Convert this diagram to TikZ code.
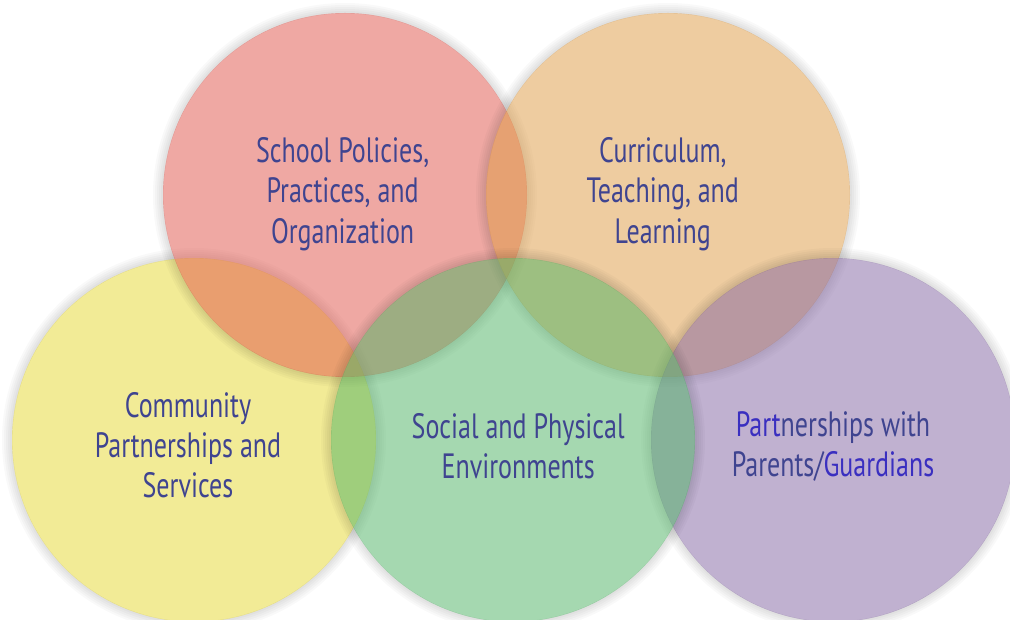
\documentclass[tikz,border=0pt]{standalone}
\usepackage{fontspec}
\setmainfont{PT Sans}[FakeStretch=0.74]
\usetikzlibrary{positioning}
\definecolor{RingRed}{HTML}{E15349}
\definecolor{RingOrange}{HTML}{DF9B43}
\definecolor{RingYellow}{HTML}{E7D92F}
\definecolor{RingGreen}{HTML}{4DB363}
\definecolor{RingPurple}{HTML}{8365A3}
\definecolor{RingInk}{HTML}{3F4490}
\definecolor{RingBlue}{HTML}{3A2FC0}
\tikzset{
  ring/.style={circle, minimum size=9.1cm, inner sep=0pt, fill opacity=0.5},
  ringlabel/.style={font=\fontsize{25}{28.5}\selectfont, text=RingInk, align=center},
}
% soft halo just outside a ring
\newcommand{\ringshadow}[1]{%
  \foreach \k in {1,...,5}
    \fill[black, opacity=0.022, even odd rule] (#1) circle (4.55cm+\k*0.5mm) (#1) circle (4.54cm);}

\begin{document}
\begin{tikzpicture}
\useasboundingbox (0,0) rectangle (25.25,15.5);
\clip (0,0) rectangle (25.25,15.5);
\fill[white] (0,0) rectangle (25.25,15.5);

% rings, back to front
\ringshadow{4.85,4.5}
\node[ring, fill=RingYellow] (community) at (4.85,4.5) {};
\ringshadow{8.625,10.625}
\node[ring, fill=RingRed] (policies) at (8.625,10.625) {};
\ringshadow{16.7,10.625}
\node[ring, fill=RingOrange] (curriculum) at (16.7,10.625) {};
\ringshadow{20.825,4.5}
\node[ring, fill=RingPurple] (parents) at (20.825,4.5) {};
\ringshadow{12.825,4.5}
\node[ring, fill=RingGreen] (social) at (12.825,4.5) {};

% labels
\node[ringlabel] (policies text) at ([xshift=-0.6mm,yshift=0.2mm]policies.center) {School Policies,\\Practices, and\\Organization};
\node[ringlabel] (curriculum text) at ([xshift=-1.3mm,yshift=0.2mm]curriculum.center) {Curriculum,\\Teaching, and\\Learning};
\node[ringlabel] (community text) at ([xshift=-1.5mm,yshift=-1.2mm]community.center) {Community\\Partnerships and\\Services};
\node[ringlabel] (social text) at ([xshift=1.3mm,yshift=-1.6mm]social.center) {Social and Physical\\Environments};
\node[ringlabel] (parents text) at ([yshift=-1.6mm]parents.center) {\textcolor{RingBlue}{Part}nerships with\\Parents/\textcolor{RingBlue}{Guardians}};
\end{tikzpicture}
\end{document}
